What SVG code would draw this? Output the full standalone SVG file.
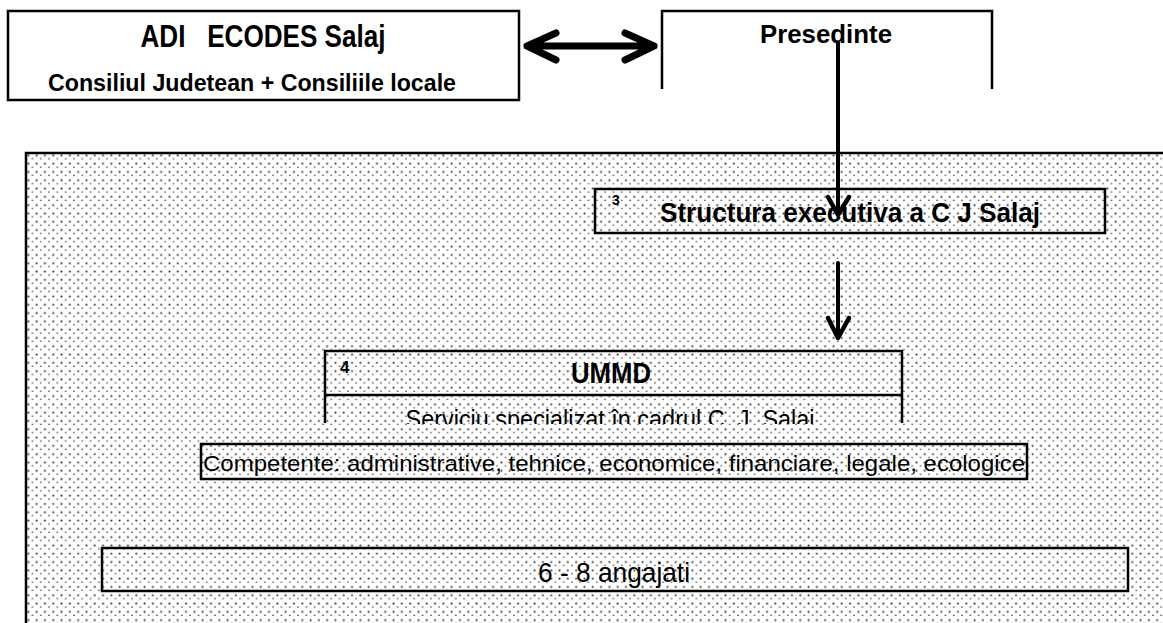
<svg xmlns="http://www.w3.org/2000/svg" width="1163" height="623" viewBox="0 0 1163 623">
<style>
.box{fill:none;stroke:#000;stroke-width:2.5}
.wbox{fill:#fff;stroke:#000;stroke-width:2.5}
.line{fill:none;stroke:#000;stroke-width:2.5}
.b{font-family:"Liberation Sans",Arial,sans-serif;font-weight:bold;fill:#000}
.r{font-family:"Liberation Sans",Arial,sans-serif;fill:#000}
.arr{fill:none;stroke:#000;stroke-linecap:round;stroke-linejoin:round}
</style>
<defs>
<pattern id="dots" x="26" y="153" width="8.3" height="8.3" patternUnits="userSpaceOnUse">
<rect x="1.5" y="1.5" width="1.7" height="1.7" fill="#222"/>
<rect x="5.7" y="5.2" width="1.5" height="1.2" fill="#444"/>
</pattern>
<clipPath id="umclip"><rect x="325" y="396" width="578" height="28"/></clipPath>
</defs>
<rect width="1163" height="623" fill="#fff"/>
<g id="region">
<rect x="26" y="153" width="1140" height="475" fill="url(#dots)"/>
<path class="line" d="M26,623 V153 H1163"/>
</g>
<g id="adi">
<rect class="wbox" x="8" y="11" width="511" height="89"/>
<text class="b" x="263" y="47" font-size="31" text-anchor="middle" textLength="245" lengthAdjust="spacingAndGlyphs" xml:space="preserve">ADI   ECODES Salaj</text>
<text class="b" x="252" y="91" font-size="23" text-anchor="middle" textLength="408" lengthAdjust="spacingAndGlyphs">Consiliul Judetean + Consiliile locale</text>
</g>
<g id="presedinte">
<path class="wbox" d="M662,89 V11 H992 V89"/>
<text class="b" x="826" y="43" font-size="26" text-anchor="middle" textLength="132" lengthAdjust="spacingAndGlyphs">Presedinte</text>
</g>
<g id="structura">
<rect class="box" x="595" y="189" width="510" height="44"/>
<text class="b" x="612" y="205" font-size="14">3</text>
<text class="b" x="850" y="222" font-size="27" text-anchor="middle" textLength="380" lengthAdjust="spacingAndGlyphs">Structura executiva a C J Salaj</text>
</g>
<g id="ummd">
<path class="line" d="M325,423 V351 H902 V423 M325,395 H902"/>
<text class="b" x="340" y="373" font-size="17">4</text>
<text class="b" x="611" y="383" font-size="29" text-anchor="middle" textLength="80" lengthAdjust="spacingAndGlyphs">UMMD</text>
<text class="r" x="610" y="428" font-size="25" text-anchor="middle" textLength="409" lengthAdjust="spacingAndGlyphs" clip-path="url(#umclip)">Serviciu specializat în cadrul C. J. Salaj</text>
</g>
<g id="competente">
<rect class="box" x="201" y="444" width="826" height="35"/>
<text class="r" x="614" y="471" font-size="22" text-anchor="middle" textLength="822" lengthAdjust="spacingAndGlyphs">Competente: administrative, tehnice, economice, financiare, legale, ecologice</text>
</g>
<g id="angajati">
<rect class="box" x="102" y="548" width="1026" height="43"/>
<text class="r" x="614" y="582" font-size="28" text-anchor="middle" textLength="152" lengthAdjust="spacingAndGlyphs">6 - 8 angajati</text>
</g>
<g id="connectors">
<path class="arr" stroke-width="7" d="M527,46 H654 M556,33 L527,46 L556,60 M625,33 L654,46 L625,60"/>
<path class="arr" stroke-width="4" stroke-linecap="butt" d="M838,43 V214"/>
<path class="arr" stroke-width="4.5" d="M828,197 L838,215 L849,197"/>
<path class="arr" stroke-width="4" stroke-linecap="butt" d="M838,263 V337"/>
<path class="arr" stroke-width="4.5" d="M828,318 L838,338 L849,318"/>
</g>
</svg>
